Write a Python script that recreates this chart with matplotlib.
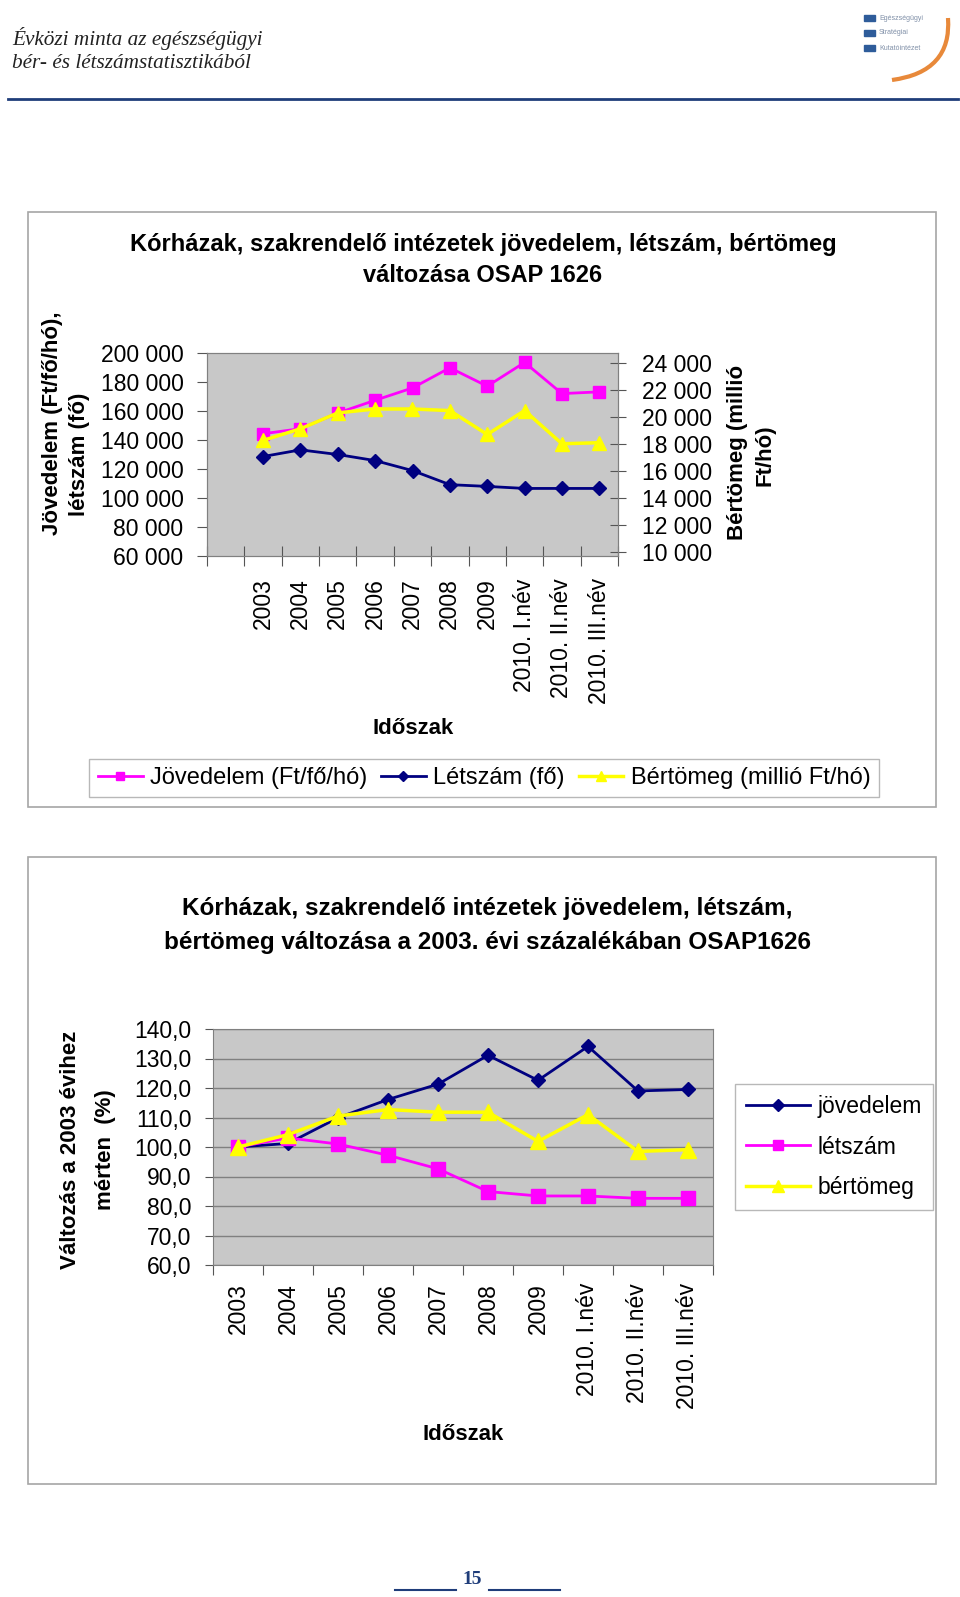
import numpy as np
import matplotlib.pyplot as plt
from matplotlib.patches import Rectangle, PathPatch
from matplotlib.path import Path

plt.rcParams['font.family'] = ['Liberation Sans', 'DejaVu Sans']

# Data
periods = ['2003', '2004', '2005', '2006', '2007', '2008', '2009',
           '2010. I.név', '2010. II.név', '2010. III.név']

# chart 1: absolute values
jovedelem = [144300, 147800, 158600, 167400, 175900, 189800, 177100, 193500, 172000, 173200]
letszam = [128600, 133200, 130000, 125800, 118900, 109200, 108000, 106600, 106600, 106600]
bertomeg = [18270, 19130, 20310, 20600, 20600, 20480, 18710, 20480, 18020, 18100]

# chart 2: change relative to 2003 (%)
jov_pct = [100.0, 101.2, 109.9, 116.1, 121.3, 131.1, 122.6, 134.1, 119.0, 119.5]
let_pct = [100.0, 103.1, 101.0, 97.2, 92.6, 84.9, 83.4, 83.4, 82.6, 82.6]
ber_pct = [100.0, 104.2, 110.5, 112.7, 111.8, 111.8, 101.9, 111.0, 98.5, 99.1]

W, H = 960, 1597
MAGENTA, NAVY, YELLOW = '#FF00FF', '#000080', '#FFFF00'
PLOT_BG = '#C8C8C8'
GRAY = '#808080'
FS = 16.5


def fx(x):
    return x / W


def fy(y):
    return 1 - y / H


def px_rect(left, top, right, bottom):
    return [fx(left), fy(bottom), (right - left) / W, (bottom - top) / H]


def thousands(v):
    return f'{v:,}'.replace(',', ' ')


fig = plt.figure(figsize=(W / 100, H / 100), dpi=100)

# page decoration drawn in pixel coordinates
deco = fig.add_axes([0, 0, 1, 1], zorder=-5)
deco.set_xlim(0, W)
deco.set_ylim(H, 0)
deco.axis('off')

fig.text(fx(12), fy(39), 'Évközi minta az egészségügyi', family='Liberation Serif',
         style='italic', fontsize=15.3, va='center', color='#222222')
fig.text(fx(12), fy(63), 'bér- és létszámstatisztikából', family='Liberation Serif',
         style='italic', fontsize=15.3, va='center', color='#222222')
deco.plot([8, 958], [99, 99], color='#1F3D7A', lw=2)

# small logo
for yy, txt in zip([18, 33, 48], ['Egészségügyi', 'Stratégiai', 'Kutatóintézet']):
    deco.add_patch(Rectangle((864, yy - 3), 11, 6, color='#2E5C9A'))
    deco.text(879, yy, txt, fontsize=5, color='#8090A8', va='center')
swoosh = Path([(948, 18), (952, 72), (892, 80)], [Path.MOVETO, Path.CURVE3, Path.CURVE3])
deco.add_patch(PathPatch(swoosh, fill=False, edgecolor='#E8893A', lw=3))

# chart frames
deco.add_patch(Rectangle((28, 212), 908, 595, fill=False, edgecolor='#A6A6A6', lw=1.2))
deco.add_patch(Rectangle((28, 857), 908, 627, fill=False, edgecolor='#A6A6A6', lw=1.2))

# page number
deco.plot([395, 456], [1590, 1590], color='#1F3D7A', lw=1.5)
deco.plot([489, 560], [1590, 1590], color='#1F3D7A', lw=1.5)
fig.text(fx(472), fy(1580), '15', family='Liberation Serif', weight='bold',
         color='#1F3D7A', fontsize=14, ha='center', va='center')

# ---------------- Chart 1 ----------------
fig.text(fx(483), fy(245), 'Kórházak, szakrendelő intézetek jövedelem, létszám, bértömeg',
         ha='center', va='center', fontsize=17, weight='bold')
fig.text(fx(483), fy(275), 'változása OSAP 1626',
         ha='center', va='center', fontsize=17, weight='bold')

ax1 = fig.add_axes(px_rect(207, 353, 618, 556))
ax1.set_facecolor(PLOT_BG)
x1 = np.arange(1, len(periods) + 1)
ax1.plot(x1, jovedelem, color=MAGENTA, lw=2, marker='s', ms=8.5, label='Jövedelem (Ft/fő/hó)')
ax1.plot(x1, letszam, color=NAVY, lw=2, marker='D', ms=7, label='Létszám (fő)')
ax1.set_xlim(-0.5, len(periods) + 0.5)
ax1.set_ylim(60000, 200000)
yt1 = np.arange(60000, 200001, 20000)
ax1.set_yticks(yt1, labels=[thousands(v) for v in yt1])
ax1.set_xticks(np.arange(-0.5, len(periods) + 1), labels=[])
ax1.set_xticks(x1, labels=periods, minor=True, rotation=90)
ax1.tick_params(axis='x', which='major', direction='inout', length=14, color='#555555')
ax1.tick_params(axis='x', which='minor', length=0, pad=16, labelsize=FS)
ax1.tick_params(axis='y', direction='out', length=7, pad=10, labelsize=FS, color='#555555')
for sp in ax1.spines.values():
    sp.set_color(GRAY)

ax2 = ax1.twinx()
ax2.plot(x1, bertomeg, color=YELLOW, lw=2.5, marker='^', ms=10, label='Bértömeg (millió Ft/hó)')
ax2.set_ylim(9700, 24750)
yt2 = np.arange(10000, 24001, 2000)
ax2.set_yticks(yt2, labels=[thousands(v) for v in yt2])
ax2.tick_params(axis='y', direction='inout', length=12, pad=11, labelsize=FS, color='#555555')
for sp in ax2.spines.values():
    sp.set_color(GRAY)

fig.text(fx(53), fy(423), 'Jövedelem (Ft/fő/hó),', rotation=90, ha='center', va='center',
         fontsize=16, weight='bold')
fig.text(fx(79), fy(454), 'létszám (fő)', rotation=90, ha='center', va='center',
         fontsize=16, weight='bold')
fig.text(fx(737), fy(452), 'Bértömeg (millió', rotation=90, ha='center', va='center',
         fontsize=16, weight='bold')
fig.text(fx(765), fy(455), 'Ft/hó)', rotation=90, ha='center', va='center',
         fontsize=16, weight='bold')
fig.text(fx(413), fy(728), 'Időszak', ha='center', va='center', fontsize=16, weight='bold')

h1, l1 = ax1.get_legend_handles_labels()
h2, l2 = ax2.get_legend_handles_labels()
leg1 = fig.legend(h1 + h2, l1 + l2, loc='center', bbox_to_anchor=(fx(484), fy(778)),
                  ncol=3, fontsize=17, frameon=True, fancybox=False, edgecolor='#A6A6A6',
                  markerscale=0.7, handlelength=1.9, handletextpad=0.3, columnspacing=0.6,
                  borderpad=0.35)
leg1.get_frame().set_linewidth(1)

# ---------------- Chart 2 ----------------
fig.text(fx(487), fy(909), 'Kórházak, szakrendelő intézetek jövedelem, létszám,',
         ha='center', va='center', fontsize=17.5, weight='bold')
fig.text(fx(487), fy(942), 'bértömeg változása a 2003. évi százalékában OSAP1626',
         ha='center', va='center', fontsize=17.5, weight='bold')

ax3 = fig.add_axes(px_rect(213, 1029, 713, 1265))
ax3.set_facecolor(PLOT_BG)
x2 = np.arange(len(periods))
ax3.plot(x2, jov_pct, color=NAVY, lw=2, marker='D', ms=7.5, label='jövedelem')
ax3.plot(x2, let_pct, color=MAGENTA, lw=2, marker='s', ms=10, label='létszám')
ax3.plot(x2, ber_pct, color=YELLOW, lw=2.5, marker='^', ms=11, label='bértömeg')
ax3.set_xlim(-0.5, len(periods) - 0.5)
ax3.set_ylim(60, 140)
yt3 = np.arange(60, 141, 10)
ax3.set_yticks(yt3, labels=[f'{v:.1f}'.replace('.', ',') for v in yt3])
ax3.yaxis.grid(True, color=GRAY, lw=1)
ax3.set_axisbelow(True)
ax3.set_xticks(np.arange(-0.5, len(periods)), labels=[])
ax3.set_xticks(x2, labels=periods, minor=True, rotation=90)
ax3.tick_params(axis='x', which='major', direction='out', length=7, color='#555555')
ax3.tick_params(axis='x', which='minor', length=0, pad=13, labelsize=FS)
ax3.tick_params(axis='y', direction='out', length=6, pad=9.5, labelsize=FS, color='#555555')
for sp in ax3.spines.values():
    sp.set_color(GRAY)

fig.text(fx(71), fy(1150), 'Változás a 2003 évihez', rotation=90, ha='center', va='center',
         fontsize=16, weight='bold')
fig.text(fx(106), fy(1150), 'mérten  (%)', rotation=90, ha='center', va='center',
         fontsize=16, weight='bold')
fig.text(fx(463), fy(1435), 'Időszak', ha='center', va='center', fontsize=16, weight='bold')

leg2 = ax3.legend(loc='center', bbox_to_anchor=(fx(834), fy(1147)), bbox_transform=fig.transFigure,
                  fontsize=FS, frameon=True, fancybox=False, edgecolor='#A6A6A6',
                  markerscale=0.75, handlelength=2.8, handletextpad=0.3, labelspacing=0.75,
                  borderpad=0.5)
leg2.get_frame().set_linewidth(1)

fig.savefig('out.png', dpi=100)
